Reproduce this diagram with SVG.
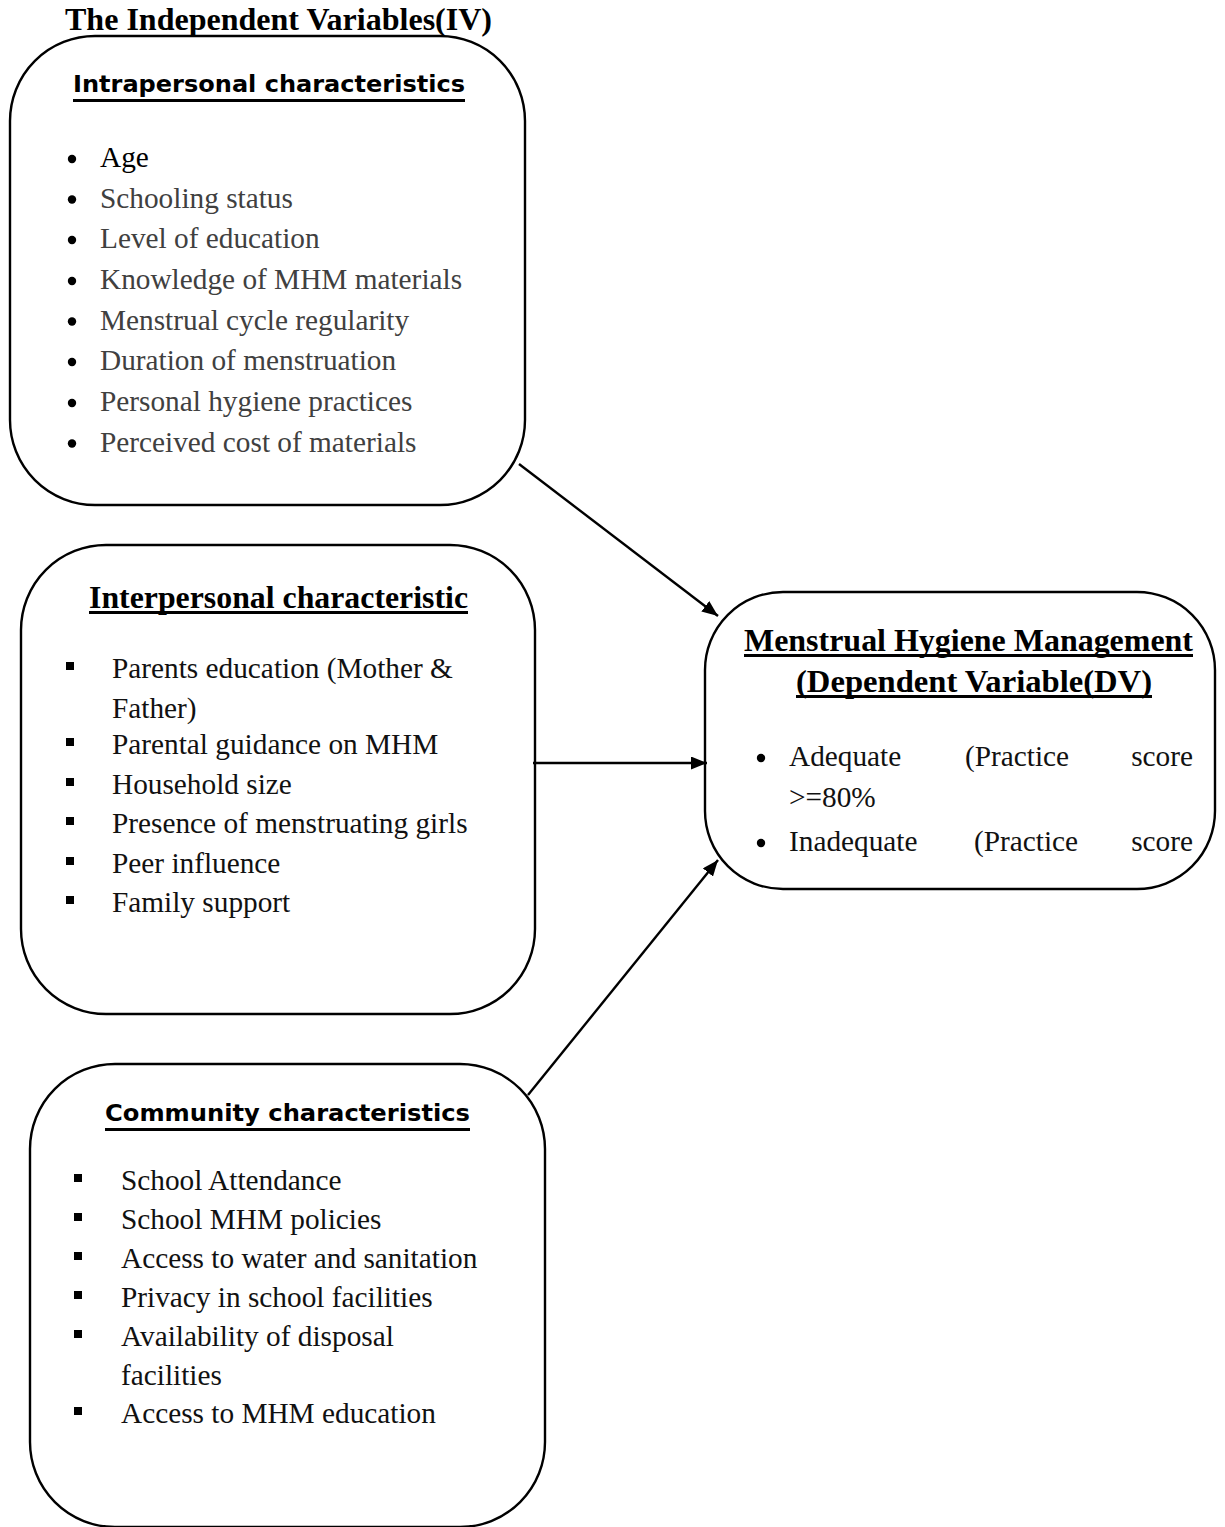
<svg xmlns="http://www.w3.org/2000/svg" width="1225" height="1527" viewBox="0 0 1225 1527">
<defs>
<style>
.box{fill:#fff;stroke:#000;stroke-width:2.4}
.t{font-family:"Liberation Serif","Times New Roman",serif;font-size:29.3px;fill:#111}
.g{fill:#404040}
.tb{font-family:"Liberation Serif","Times New Roman",serif;font-size:32px;font-weight:bold;fill:#000}
.sb{font-family:"DejaVu Sans Condensed","DejaVu Sans",sans-serif;font-size:23px;font-weight:bold;fill:#000}
.ul{fill:#000}
.c{stroke:#000;stroke-width:2.4;fill:none}
</style>
<marker id="ah" viewBox="0 0 16 13" refX="16" refY="6.5" markerWidth="16" markerHeight="13" markerUnits="userSpaceOnUse" orient="auto"><path d="M0,0 L16,6.5 L0,13 Z" fill="#000"/></marker>
</defs>
<rect width="1225" height="1527" fill="#fff"/>
<text class="tb" x="65" y="30" textLength="427" lengthAdjust="spacingAndGlyphs">The Independent Variables(IV)</text>

<g id="intrapersonal">
<rect class="box" x="10" y="36" width="515" height="469" rx="85" ry="85"/>
<text class="sb" x="73" y="92" textLength="392" lengthAdjust="spacingAndGlyphs">Intrapersonal characteristics</text>
<rect class="ul" x="73" y="99" width="392" height="3"/>
<g fill="#000"><circle cx="72" cy="159" r="4.2"/><circle cx="72" cy="199.5" r="4.2"/><circle cx="72" cy="240" r="4.2"/><circle cx="72" cy="281" r="4.2"/><circle cx="72" cy="321.5" r="4.2"/><circle cx="72" cy="362" r="4.2"/><circle cx="72" cy="403" r="4.2"/><circle cx="72" cy="443.5" r="4.2"/></g>
<text class="t" x="100" y="167" style="fill:#000">Age</text>
<text class="t g" x="100" y="207.5">Schooling status</text>
<text class="t g" x="100" y="248">Level of education</text>
<text class="t g" x="100" y="289">Knowledge of MHM materials</text>
<text class="t g" x="100" y="329.5">Menstrual cycle regularity</text>
<text class="t g" x="100" y="370">Duration of menstruation</text>
<text class="t g" x="100" y="411">Personal hygiene practices</text>
<text class="t g" x="100" y="451.5">Perceived cost of materials</text>
</g>

<g id="interpersonal">
<rect class="box" x="21" y="545" width="514" height="469" rx="85" ry="85"/>
<text class="tb" x="89" y="608" textLength="379" lengthAdjust="spacingAndGlyphs">Interpersonal characteristic</text>
<rect class="ul" x="89" y="611" width="379" height="3"/>
<g fill="#000"><rect x="66" y="662" width="8" height="8"/><rect x="66" y="738" width="8" height="8"/><rect x="66" y="778" width="8" height="8"/><rect x="66" y="817" width="8" height="8"/><rect x="66" y="857" width="8" height="8"/><rect x="66" y="896" width="8" height="8"/></g>
<text class="t" x="112" y="678">Parents education (Mother &amp;</text>
<text class="t" x="112" y="718">Father)</text>
<text class="t" x="112" y="754">Parental guidance on MHM</text>
<text class="t" x="112" y="794">Household size</text>
<text class="t" x="112" y="833">Presence of menstruating girls</text>
<text class="t" x="112" y="873">Peer influence</text>
<text class="t" x="112" y="912">Family support</text>
</g>

<g id="community">
<rect class="box" x="30" y="1064" width="515" height="463" rx="85" ry="85"/>
<text class="sb" x="105" y="1121" textLength="365" lengthAdjust="spacingAndGlyphs">Community characteristics</text>
<rect class="ul" x="105" y="1128" width="365" height="3"/>
<g fill="#000"><rect x="74" y="1174" width="8" height="8"/><rect x="74" y="1213" width="8" height="8"/><rect x="74" y="1252" width="8" height="8"/><rect x="74" y="1291" width="8" height="8"/><rect x="74" y="1330" width="8" height="8"/><rect x="74" y="1407" width="8" height="8"/></g>
<text class="t" x="121" y="1190">School Attendance</text>
<text class="t" x="121" y="1229">School MHM policies</text>
<text class="t" x="121" y="1268">Access to water and sanitation</text>
<text class="t" x="121" y="1307">Privacy in school facilities</text>
<text class="t" x="121" y="1346">Availability of disposal</text>
<text class="t" x="121" y="1385">facilities</text>
<text class="t" x="121" y="1423">Access to MHM education</text>
</g>

<g id="mhm">
<rect class="box" x="705" y="592" width="510" height="297" rx="78" ry="78"/>
<text class="tb" x="744" y="651" textLength="449" lengthAdjust="spacingAndGlyphs">Menstrual Hygiene Management</text>
<rect class="ul" x="744" y="654" width="449" height="3"/>
<text class="tb" x="796" y="692" textLength="356" lengthAdjust="spacingAndGlyphs">(Dependent Variable(DV)</text>
<rect class="ul" x="796" y="695" width="356" height="3"/>
<g fill="#000"><circle cx="761" cy="758" r="4.2"/><circle cx="761" cy="843" r="4.2"/></g>
<text class="t" x="789" y="766">Adequate</text>
<text class="t" x="965" y="766">(Practice</text>
<text class="t" x="1193" y="766" text-anchor="end">score</text>
<text class="t" x="789" y="807">&gt;=80%</text>
<text class="t" x="789" y="851">Inadequate</text>
<text class="t" x="974" y="851">(Practice</text>
<text class="t" x="1193" y="851" text-anchor="end">score</text>
</g>

<g id="connectors">
<line class="c" x1="519" y1="464" x2="718" y2="616" marker-end="url(#ah)"/>
<line class="c" x1="533" y1="763" x2="707" y2="763" marker-end="url(#ah)"/>
<line class="c" x1="528" y1="1095" x2="718" y2="860" marker-end="url(#ah)"/>
</g>
</svg>
